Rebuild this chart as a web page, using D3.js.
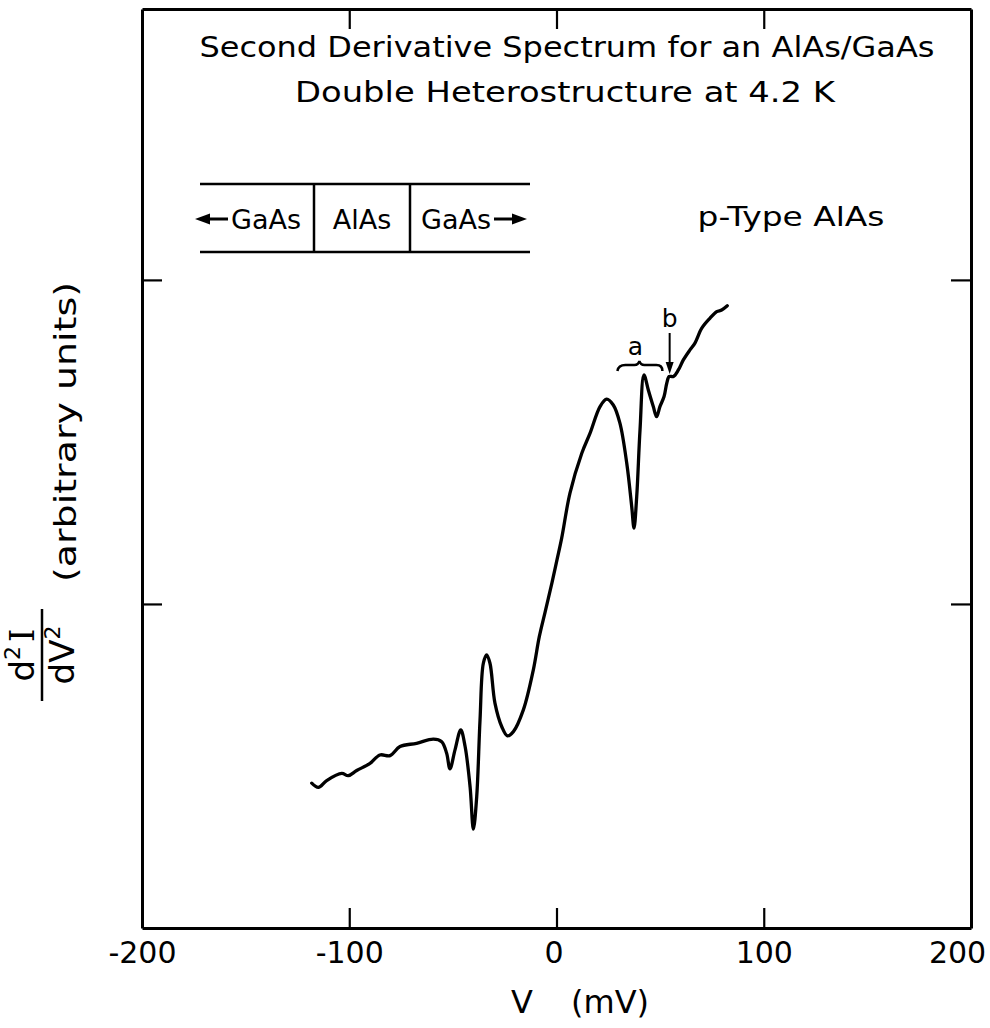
<!DOCTYPE html>
<html><head><meta charset="utf-8">
<script src="https://cdn.jsdelivr.net/npm/d3@7/dist/d3.min.js"></script>
<style>
body{margin:0;background:#fff;}
text{font-family:"DejaVu Sans",sans-serif;fill:#000;}
</style></head>
<body><svg id="chart" width="990" height="1028"></svg>
<script>
// ---- data ----
const voltage = [-118.1,-114.9,-110.9,-103.6,-100.5,-96.4,-90.0,-85.2,-80.3,-75.5,-67.5,-59.4,-55.4,-53.0,-51.4,-49.0,-46.2,-44.1,-41.7,-40.1,-38.5,-36.9,-35.3,-33.7,-32.1,-29.7,-26.4,-23.7,-20.8,-16.0,-11.2,-8.3,-5.5,-2.2,0.2,2.5,6.5,12.2,16.2,21.0,24.2,27.4,30.6,33.9,36.3,37.4,38.7,40.3,42.2,44.3,46.7,48.3,49.9,51.9,53.2,54.4,56.4,58.8,61.2,64.4,66.8,70.1,74.1,77.3,79.7,82.4];
const signal = [0.447,0.434,0.455,0.477,0.470,0.486,0.508,0.534,0.532,0.560,0.570,0.583,0.575,0.539,0.491,0.549,0.611,0.560,0.436,0.305,0.405,0.642,0.817,0.843,0.817,0.694,0.621,0.593,0.606,0.673,0.796,0.899,0.975,1.065,1.135,1.203,1.342,1.465,1.527,1.609,1.632,1.614,1.558,1.434,1.300,1.234,1.331,1.537,1.707,1.660,1.609,1.578,1.609,1.640,1.681,1.702,1.702,1.722,1.753,1.784,1.805,1.851,1.882,1.902,1.907,1.920];
const xTicks = [-200,-100,0,100,200];
const xTickLabels = ["-200","-100","0","100","200"];
const xInnerTicks = [-100,0,100];
const yTicks = [1,2];
const titleLines = ["Second Derivative Spectrum for an AlAs/GaAs","Double Heterostructure at 4.2 K"];
const layers = ["GaAs","AlAs","GaAs"];
const sampleLabel = "p-Type AlAs";
const featureA = 40;   // mV position of feature "a"
const featureB = 54.6; // mV position of feature "b"

// ---- drawing ----
const svg = d3.select("#chart");
const L=142,R=971,T=9,B=928;
const x = d3.scaleLinear().domain([-200,200]).range([L,R]);
const y = d3.scaleLinear().domain([0,2.836]).range([B,T]);

function styleAxis(g){
  g.select(".domain").attr("stroke","#000").attr("stroke-width",3);
  g.selectAll(".tick line").attr("stroke","#000").attr("stroke-width",2.2);
}
const gb = svg.append("g").attr("transform",`translate(0,${B})`)
  .call(d3.axisBottom(x).tickValues(xTicks).tickFormat((d,i)=>xTickLabels[i]).tickSize(-20).tickSizeOuter(0).tickPadding(14));
styleAxis(gb);
gb.selectAll(".tick text").attr("font-size",30).attr("font-family","DejaVu Sans");
gb.selectAll(".tick").filter(d=>d===-200||d===200).select("line").remove();
gb.selectAll(".tick").filter(d=>d===200).select("text").attr("dx",-14);
gb.selectAll(".tick").filter(d=>d===0).select("text").attr("dx",-3);

const gt = svg.append("g").attr("transform",`translate(0,${T})`)
  .call(d3.axisTop(x).tickValues(xInnerTicks).tickFormat("").tickSize(-20).tickSizeOuter(0));
styleAxis(gt);
const gl = svg.append("g").attr("transform",`translate(${L},0)`)
  .call(d3.axisLeft(y).tickValues(yTicks).tickFormat("").tickSize(-20).tickSizeOuter(0));
styleAxis(gl);
const gr = svg.append("g").attr("transform",`translate(${R},0)`)
  .call(d3.axisRight(y).tickValues(yTicks).tickFormat("").tickSize(-20).tickSizeOuter(0));
styleAxis(gr);

// curve
const line = d3.line().x((d,i)=>x(voltage[i])).y((d,i)=>y(signal[i])).curve(d3.curveCatmullRom.alpha(0.5));
svg.append("path").datum(signal).attr("d",line).attr("fill","none").attr("stroke","#000")
  .attr("stroke-width",3.3).attr("stroke-linejoin","round").attr("stroke-linecap","round");

// title
svg.append("text").attr("x",567).attr("y",57).attr("text-anchor","middle").attr("font-size",29)
  .attr("textLength",735).attr("lengthAdjust","spacingAndGlyphs").text(titleLines[0]);
svg.append("text").attr("x",565).attr("y",102).attr("text-anchor","middle").attr("font-size",29)
  .attr("textLength",540).attr("lengthAdjust","spacingAndGlyphs").text(titleLines[1]);

// inset layer diagram
const ins = svg.append("g").attr("stroke","#000").attr("stroke-width",2.5);
ins.append("line").attr("x1",200).attr("x2",530).attr("y1",184).attr("y2",184);
ins.append("line").attr("x1",200).attr("x2",530).attr("y1",252).attr("y2",252);
ins.append("line").attr("x1",314).attr("x2",314).attr("y1",184).attr("y2",252);
ins.append("line").attr("x1",410).attr("x2",410).attr("y1",184).attr("y2",252);
ins.append("line").attr("x1",204).attr("x2",228).attr("y1",219).attr("y2",219).attr("stroke-width",3);
ins.append("line").attr("x1",494).attr("x2",518).attr("y1",219).attr("y2",219).attr("stroke-width",3);
svg.append("path").attr("d","M195,219 L210,213.5 L210,224.5 Z").attr("fill","#000");
svg.append("path").attr("d","M527,219 L512,213.5 L512,224.5 Z").attr("fill","#000");
const layerX = [266,362,456];
layers.forEach((t,i)=>{
  svg.append("text").attr("x",layerX[i]).attr("y",229).attr("text-anchor","middle").attr("font-size",27).text(t);
});
svg.append("text").attr("x",791).attr("y",226).attr("text-anchor","middle").attr("font-size",27)
  .attr("textLength",187).attr("lengthAdjust","spacingAndGlyphs").text(sampleLabel);

// feature annotations
const ax = x(featureA);
svg.append("path").attr("d",`M${ax-22},371 Q${ax-21},365 ${ax-14},365 L${ax-5},365 Q${ax-1},365 ${ax},361 Q${ax+1},365 ${ax+5},365 L${ax+17},365 Q${ax+23},365 ${ax+23},371`)
  .attr("fill","none").attr("stroke","#000").attr("stroke-width",2.5);
svg.append("text").attr("x",ax-4).attr("y",355).attr("text-anchor","middle").attr("font-size",25).text("a");
const bx = x(featureB);
svg.append("line").attr("x1",bx).attr("x2",bx).attr("y1",333).attr("y2",364).attr("stroke","#000").attr("stroke-width",2);
svg.append("path").attr("d",`M${bx},374 L${bx-4},362 L${bx+4},362 Z`).attr("fill","#000");
svg.append("text").attr("x",bx).attr("y",327).attr("text-anchor","middle").attr("font-size",25).text("b");

// axis labels
svg.append("text").attr("x",522).attr("y",1013).attr("text-anchor","middle").attr("font-size",32).text("V");
svg.append("text").attr("x",610).attr("y",1013).attr("text-anchor","middle").attr("font-size",32).text("(mV)");

svg.append("text").attr("transform","translate(76,432) rotate(-90)").attr("text-anchor","middle")
  .attr("font-size",31).attr("textLength",300).attr("lengthAdjust","spacingAndGlyphs").text("(arbitrary units)");
// fraction d²I / dV²
const fr = svg.append("g").attr("transform","translate(42,655) rotate(-90)");
const num = fr.append("text").attr("x",0).attr("y",-8).attr("text-anchor","middle").attr("font-size",34);
num.append("tspan").text("d");
num.append("tspan").attr("font-size",22).attr("dy",-14).text("2");
num.append("tspan").attr("dy",14).attr("dx",4).attr("font-family","DejaVu Serif").text("I");
fr.append("line").attr("x1",-46).attr("x2",46).attr("y1",0).attr("y2",0).attr("stroke","#000").attr("stroke-width",2.5);
const den = fr.append("text").attr("x",0).attr("y",32).attr("text-anchor","middle").attr("font-size",34);
den.append("tspan").text("dV");
den.append("tspan").attr("font-size",22).attr("dy",-14).text("2");
</script></body></html>
